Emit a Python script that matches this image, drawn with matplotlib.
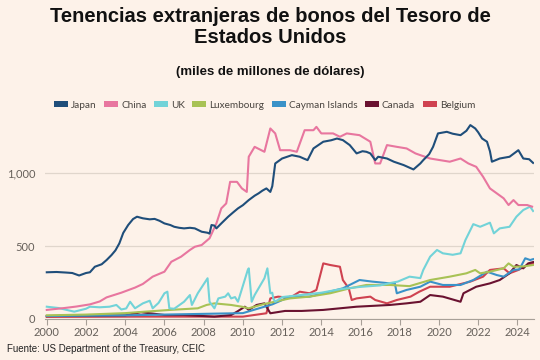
import matplotlib
matplotlib.use("Agg")
import matplotlib.pyplot as plt
from matplotlib.patches import Patch

# --- data (miles de millones de USD) ---
japan_t = [2000.0, 2000.5, 2001.0, 2001.3, 2001.65, 2002.0, 2002.2, 2002.45, 2002.8, 2003.05,
           2003.3, 2003.5, 2003.7, 2003.9, 2004.15, 2004.4, 2004.6, 2004.9, 2005.25, 2005.5,
           2005.75, 2006.0, 2006.3, 2006.5, 2006.75, 2007.0, 2007.3, 2007.55, 2007.9, 2008.2,
           2008.3, 2008.4, 2008.55, 2008.65, 2008.9, 2009.25, 2009.5, 2009.75, 2010.0, 2010.3,
           2010.6, 2010.8, 2011.0, 2011.2, 2011.4, 2011.5, 2011.65, 2012.0, 2012.5, 2012.9,
           2013.1, 2013.3, 2013.6, 2014.1, 2014.5, 2014.8, 2015.1, 2015.45, 2015.8, 2016.1,
           2016.3, 2016.5, 2016.75, 2016.9, 2017.35, 2017.7, 2018.2, 2018.7, 2019.05, 2019.2,
           2019.5, 2019.7, 2019.95, 2020.4, 2020.7, 2021.1, 2021.4, 2021.6, 2021.85, 2022.0,
           2022.2, 2022.45, 2022.6, 2022.7, 2023.1, 2023.6, 2024.05, 2024.3, 2024.6, 2024.8]
japan_v = [320, 322, 318, 315, 298, 315, 320, 358, 375, 404,
           438, 470, 518, 590, 644, 685, 701, 690, 683, 686,
           673, 655, 644, 632, 625, 621, 625, 621, 598, 591,
           585, 644, 640, 621, 655, 701, 730, 758, 780, 815,
           845, 861, 880, 895, 871, 910, 1066, 1100, 1123, 1112,
           1100, 1089, 1169, 1215, 1225, 1237, 1226, 1192, 1135, 1150,
           1146, 1135, 1089, 1112, 1100, 1078, 1055, 1025, 1066, 1089,
           1130, 1180, 1272, 1283, 1270, 1260, 1290, 1329, 1306, 1280,
           1237, 1215, 1150, 1078, 1100, 1112, 1157, 1100, 1095, 1070]

china_t = [2000.0, 2000.9, 2001.5, 2002.2, 2002.7, 2003.05, 2003.8, 2004.5, 2004.9, 2005.4,
           2005.75, 2006.0, 2006.35, 2006.85, 2007.3, 2007.55, 2007.9, 2008.3, 2008.65, 2008.9,
           2009.15, 2009.35, 2009.7, 2009.95, 2010.2, 2010.3, 2010.6, 2011.1, 2011.4, 2011.65,
           2011.9, 2012.4, 2012.75, 2013.15, 2013.6, 2013.75, 2014.0, 2014.6, 2014.95, 2015.3,
           2015.95, 2016.5, 2016.75, 2017.0, 2017.35, 2017.85, 2018.35, 2018.8, 2019.05, 2019.55,
           2020.05, 2020.55, 2021.1, 2021.5, 2021.9, 2022.25, 2022.6, 2022.95, 2023.3, 2023.55,
           2023.8, 2024.05, 2024.5, 2024.75]
china_v = [62, 75, 85, 100, 120, 148, 180, 215, 240, 290,
           310, 324, 392, 427, 473, 495, 507, 553, 655, 758,
           792, 940, 940, 895, 871, 1112, 1180, 1146, 1306, 1272,
           1157, 1157, 1146, 1294, 1294, 1317, 1272, 1272, 1249, 1272,
           1260, 1215, 1066, 1066, 1192, 1180, 1169, 1135, 1123, 1100,
           1089, 1078, 1100, 1066, 1043, 975, 895, 861, 827, 781,
           815, 781, 781, 770]

uk_t = [2000.0, 2000.6, 2001.4, 2002.0, 2002.2, 2002.7, 2003.2, 2003.55, 2003.8, 2004.05,
        2004.25, 2004.5, 2004.9, 2005.25, 2005.4, 2005.7, 2006.0, 2006.15, 2006.25, 2006.5,
        2007.0, 2007.3, 2007.4, 2007.7, 2008.2, 2008.3, 2008.55, 2008.75, 2009.1, 2009.25,
        2009.4, 2009.6, 2009.75, 2010.25, 2010.3, 2010.45, 2010.6, 2011.1, 2011.25, 2011.4,
        2011.5, 2011.55, 2011.65, 2012.0, 2013.0, 2014.0, 2015.0, 2016.0, 2017.0, 2017.5,
        2017.9, 2018.5, 2019.05, 2019.2, 2019.55, 2019.9, 2020.2, 2020.7, 2021.1, 2021.35,
        2021.75, 2022.1, 2022.6, 2022.8, 2023.1, 2023.6, 2023.95, 2024.3, 2024.65, 2024.8]
uk_v = [84, 75, 50, 70, 84, 80, 84, 96, 65, 72,
        118, 73, 107, 125, 73, 110, 176, 187, 73, 70,
        118, 164, 96, 176, 279, 118, 73, 141, 153, 176,
        141, 150, 118, 336, 347, 118, 164, 279, 347, 176,
        180, 140, 118, 150, 165, 180, 205, 220, 230, 246,
        256, 290, 280, 336, 427, 473, 450, 440, 450, 541,
        650, 632, 660, 587, 621, 632, 701, 747, 770, 740]

lux_t = [2000.0, 2002.0, 2004.0, 2005.0, 2006.3, 2007.7, 2008.15, 2008.55, 2009.4, 2009.95,
         2010.3, 2011.0, 2012.4, 2013.4, 2014.45, 2015.45, 2016.3, 2017.5, 2018.5, 2019.55,
         2020.55, 2021.4, 2021.85, 2022.1, 2022.6, 2023.3, 2023.55, 2023.8, 2024.3, 2024.8]
lux_v = [25, 30, 40, 50, 62, 73, 96, 107, 96, 84,
         73, 100, 141, 153, 176, 210, 233, 233, 225, 267,
         290, 313, 336, 313, 324, 347, 381, 358, 360, 370]

cayman_t = [2000.0, 2004.0, 2008.0, 2010.0, 2011.5, 2012.4, 2013.4, 2014.1, 2015.1, 2015.95,
            2016.6, 2017.5, 2017.75, 2017.85, 2018.35, 2019.05, 2019.55, 2020.2, 2021.1, 2021.75,
            2022.45, 2022.95, 2023.3, 2023.8, 2024.1, 2024.4, 2024.65, 2024.8]
cayman_v = [20, 25, 35, 40, 100, 153, 153, 176, 210, 267,
            256, 244, 244, 176, 199, 221, 256, 233, 233, 267,
            324, 301, 290, 336, 340, 416, 404, 410]

canada_t = [2000.0, 2002.0, 2004.0, 2004.8, 2005.2, 2006.0, 2007.0, 2008.55, 2009.4, 2009.7,
            2010.1, 2010.3, 2010.7, 2011.1, 2011.4, 2012.15, 2013.0, 2014.1, 2015.8, 2017.5,
            2018.35, 2019.05, 2019.55, 2020.2, 2021.1, 2021.25, 2021.9, 2022.6, 2023.1, 2023.6,
            2023.95, 2024.3, 2024.55, 2024.8]
canada_v = [20, 22, 25, 46, 40, 27, 27, 16, 27, 50,
            84, 62, 96, 107, 39, 55, 55, 62, 84, 96,
            107, 118, 164, 153, 118, 176, 221, 244, 267, 313,
            370, 347, 381, 390]

belgium_t = [2000.0, 2005.0, 2010.0, 2011.2, 2011.4, 2011.8, 2012.4, 2012.9, 2013.4, 2013.75,
             2014.1, 2014.45, 2014.95, 2015.1, 2015.4, 2015.55, 2015.8, 2016.5, 2016.75, 2017.35,
             2017.85, 2018.55, 2019.0, 2019.55, 2020.55, 2021.6, 2022.25, 2022.6, 2023.3, 2023.6,
             2024.05, 2024.5, 2024.8]
belgium_v = [14, 16, 16, 39, 141, 153, 145, 187, 176, 199,
             381, 370, 358, 267, 210, 130, 141, 153, 130, 107,
             130, 153, 187, 221, 221, 256, 290, 336, 347, 313,
             336, 370, 381]

names = ["Japan", "China", "UK", "Luxembourg", "Cayman Islands", "Canada", "Belgium"]
colors = ["#1f4e7a", "#e8769f", "#72d3d8", "#a8c255", "#3a92c8", "#6a1230", "#cf4250"]
series = [(japan_t, japan_v), (china_t, china_v), (uk_t, uk_v), (lux_t, lux_v),
          (cayman_t, cayman_v), (canada_t, canada_v), (belgium_t, belgium_v)]

bg = "#fdf2e9"
grey = "#66605a"

fig = plt.figure(figsize=(5.4, 3.6), dpi=100, facecolor=bg)
ax = fig.add_axes([0.083, 0.114, 0.906, 0.547], facecolor=bg)

# small series first so Japan / China sit on top
for (t, v), c in list(zip(series, colors))[::-1]:
    ax.plot(t, v, color=c, lw=1.5, solid_joinstyle="round")

ax.set_xlim(1999.9, 2024.85)
ax.set_ylim(0, 1350)
ax.set_yticks([0, 500, 1000], ["0", "500", "1,000"])
ax.set_xticks(range(2000, 2025, 2))
ax.grid(axis="y", color="#e0d6cc", lw=0.9)
ax.set_axisbelow(True)
for s in ["top", "right", "left"]:
    ax.spines[s].set_visible(False)
ax.spines["bottom"].set_color("#a8a098")
ax.tick_params(axis="y", length=0, pad=7, labelsize=8, labelcolor=grey)
ax.tick_params(axis="x", length=4, color="#a8a098", pad=2, labelsize=8, labelcolor=grey)
for lab in ax.get_xticklabels() + ax.get_yticklabels():
    lab.set_family("Lato")

fig.text(0.5, 1 - 27 / 360, "Tenencias extranjeras de bonos del Tesoro de\nEstados Unidos",
         ha="center", va="center", fontsize=14.5, fontweight="bold",
         family="Liberation Sans", linespacing=1.12, color="#111111")
fig.text(0.5, 1 - 72 / 360, "(miles de millones de dólares)", ha="center", va="center",
         fontsize=9.5, fontweight="bold", family="Liberation Sans", color="#111111")

handles = [Patch(facecolor=c, edgecolor="none", label=n) for n, c in zip(names, colors)]
leg = fig.legend(handles=handles, loc="center", bbox_to_anchor=(0.49, 1 - 105 / 360),
                 ncol=7, frameon=False, handlelength=1.4, handleheight=0.55,
                 handletextpad=0.3, columnspacing=0.75,
                 prop={"family": "Lato", "size": 7.2})
for txt in leg.get_texts():
    txt.set_color("#4a4540")

fig.text(7 / 540, 1 - 349 / 360, "Fuente: US Department of the Treasury, CEIC",
         ha="left", va="center", fontsize=7, family="Liberation Sans", color="#222222")

fig.savefig("out.png", dpi=100, facecolor=bg)
